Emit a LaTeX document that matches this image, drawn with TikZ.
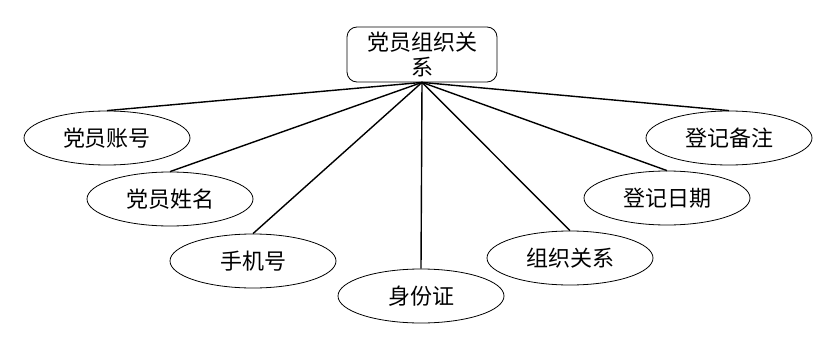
\documentclass[tikz,border=0pt]{standalone}
\usepackage{fontspec}
\newfontfamily\cjk{Noto Sans CJK SC}
\usepackage{tikz}
\usetikzlibrary{shapes.geometric}

\begin{document}
\begin{tikzpicture}[
    x=1pt, y=-1pt,
    entity/.style={rectangle, draw, rounded corners=10pt, line width=0.8pt, minimum width=150pt, minimum height=55pt, inner sep=0pt, align=center, font=\cjk\fontsize{22}{25}\selectfont},
    attr/.style={ellipse, draw, line width=0.8pt, minimum width=166pt, minimum height=54pt, inner sep=0pt, font=\cjk\fontsize{22}{25}\selectfont},
    link/.style={line width=1.4pt}
]
\useasboundingbox (0,0) rectangle (839,351);

\node[entity] (party) at (422,54.5) {党员组织关\\系};
\node[attr] (account) at (107,138) {党员账号};
\node[attr] (name) at (170,199) {党员姓名};
\node[attr] (phone) at (253,261) {手机号};
\node[attr] (idcard) at (421,296) {身份证};
\node[attr] (org) at (570,258) {组织关系};
\node[attr] (regdate) at (667,198) {登记日期};
\node[attr] (remark) at (729,138) {登记备注};

\draw[link] (party.south) -- (account.north);
\draw[link] (party.south) -- (name.north);
\draw[link] (party.south) -- (phone.north);
\draw[link] (party.south) -- (idcard.north);
\draw[link] (party.south) -- (org.north);
\draw[link] (party.south) -- (regdate.north);
\draw[link] (party.south) -- (remark.north);

\end{tikzpicture}
\end{document}
